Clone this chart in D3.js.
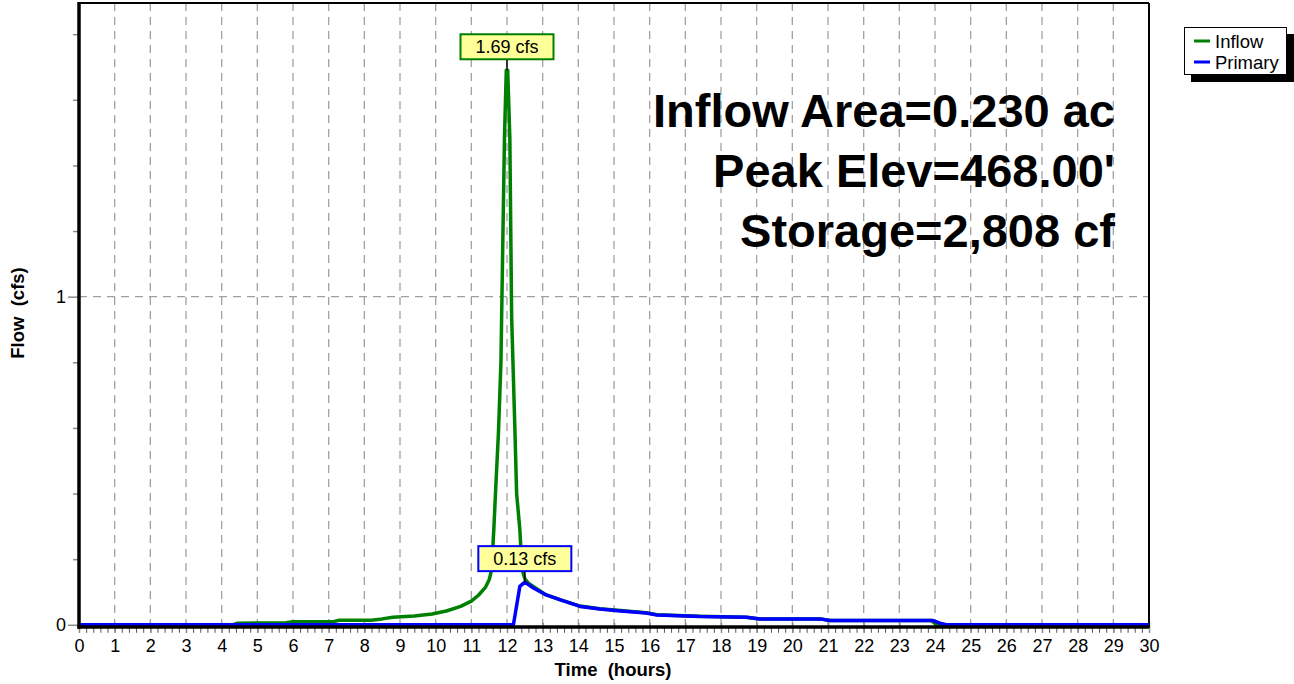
<!DOCTYPE html>
<html>
<head>
<meta charset="utf-8">
<script src="https://cdn.jsdelivr.net/npm/d3@7"></script>
<style>
  html, body { margin: 0; padding: 0; background: #fff; }
  svg { display: block; font-family: "Liberation Sans", Arial, sans-serif; }
  .title { white-space: pre; }
</style>
</head>
<body>
<svg id="chart" width="1294" height="684"></svg>
<script>
// Hydrograph: time in hours, flow in cfs
const inflowTime = [0, 4.3, 4.45, 5.8, 6.0, 7.1, 7.3, 8.2, 8.5, 8.8, 9.4, 9.9, 10.3, 10.7, 11.0, 11.2, 11.4, 11.5, 11.57, 11.63, 11.69, 11.76, 11.83, 11.87, 11.93, 11.98, 12.02, 12.08, 12.13, 12.22, 12.27, 12.36, 12.42, 12.5, 12.6, 12.8, 13.1, 13.5, 14.05, 14.6, 15.1, 15.9, 16.2, 17.4, 18.7, 19.1, 20.8, 21.05, 23.9, 24.05, 30];
const inflowFlow = [0, 0, 0.005, 0.006, 0.009, 0.009, 0.014, 0.014, 0.018, 0.023, 0.027, 0.033, 0.042, 0.056, 0.072, 0.09, 0.115, 0.137, 0.168, 0.29, 0.43, 0.585, 0.80, 1.08, 1.49, 1.69, 1.69, 1.48, 0.94, 0.60, 0.40, 0.29, 0.17, 0.14, 0.127, 0.112, 0.091, 0.076, 0.057, 0.049, 0.044, 0.037, 0.031, 0.026, 0.023, 0.018, 0.018, 0.013, 0.013, 0, 0];

const primaryTime = [0, 12.18, 12.36, 12.5, 12.74, 13.1, 13.5, 14.05, 14.6, 15.1, 15.9, 16.2, 17.4, 18.72, 19.09, 20.77, 21.05, 23.95, 24.14, 24.32, 30];
const primaryFlow = [0, 0, 0.117, 0.13, 0.112, 0.091, 0.076, 0.056, 0.048, 0.043, 0.036, 0.030, 0.025, 0.023, 0.018, 0.018, 0.013, 0.013, 0.005, 0, 0];

const xTicks = d3.range(0, 31, 1);
const yTicks = [0, 1];
const yMinorTicks = [0.2, 0.4, 0.6, 0.8, 1.2, 1.4, 1.6, 1.8];

const peakLabels = [
  { text: "1.69 cfs", time: 12.0, flow: 1.69, color: "#008000" },
  { text: "0.13 cfs", time: 12.5, flow: 0.13, color: "#0000ff" }
];
const infoLines = ["Inflow Area=0.230 ac", "Peak Elev=468.00'", "Storage=2,808 cf"];
const legendNames = ["Inflow", "Primary"];
const legendColors = ["#008000", "#0000ff"];

const svg = d3.select("#chart");
const plotL = 79, plotR = 1149, plotT = 3, plotB = 624.8;

const x = d3.scaleLinear().domain([0, 30]).range([plotL, plotR]);
const y = d3.scaleLinear().domain([0, 1.895]).range([plotB, plotT]);

// vertical dashed grid
svg.append("g").selectAll("line").data(xTicks.slice(1, -1)).join("line")
  .attr("x1", d => x(d)).attr("x2", d => x(d))
  .attr("y1", plotT).attr("y2", plotB)
  .attr("stroke", "#a0a0a0").attr("stroke-width", 1.3)
  .attr("stroke-dasharray", "8,6");
// horizontal dashed grid
svg.append("g").selectAll("line").data(yTicks.slice(1)).join("line")
  .attr("x1", plotL).attr("x2", plotR)
  .attr("y1", d => y(d)).attr("y2", d => y(d))
  .attr("stroke", "#a0a0a0").attr("stroke-width", 1.3)
  .attr("stroke-dasharray", "8,6");

// x axis: minor ticks every 0.2 h, major every hour
const xMinor = d3.axisBottom(x).tickValues(d3.range(0, 30.001, 0.2)).tickSize(6).tickFormat("");
svg.append("g").attr("transform", `translate(0,${plotB + 2})`).call(xMinor)
  .call(g => g.select(".domain").remove())
  .call(g => g.selectAll("line").attr("stroke", "#555").attr("stroke-width", 1));
const xAxis = d3.axisBottom(x).tickValues(xTicks).tickSize(10).tickPadding(6).tickFormat(d3.format("d"));
svg.append("g").attr("transform", `translate(0,${plotB - 2})`).call(xAxis)
  .call(g => g.select(".domain").remove())
  .call(g => g.selectAll("line").attr("stroke", "#8a8a8a").attr("stroke-width", 1.5))
  .call(g => g.selectAll("text").attr("font-size", 18).attr("fill", "#000")
    .attr("font-family", "Liberation Sans, Arial, sans-serif"));

// y axis
const yMinor = d3.axisLeft(y).tickValues(yMinorTicks).tickSize(6).tickFormat("");
svg.append("g").attr("transform", `translate(${plotL},0)`).call(yMinor)
  .call(g => g.select(".domain").remove())
  .call(g => g.selectAll("line").attr("stroke", "#8a8a8a").attr("stroke-width", 1.5));
const yAxis = d3.axisLeft(y).tickValues(yTicks).tickSize(11).tickPadding(2).tickFormat(d3.format("d"));
svg.append("g").attr("transform", `translate(${plotL},0)`).call(yAxis)
  .call(g => g.select(".domain").remove())
  .call(g => g.selectAll("line").attr("stroke", "#8a8a8a").attr("stroke-width", 1.5))
  .call(g => g.selectAll("text").attr("font-size", 18).attr("fill", "#000")
    .attr("font-family", "Liberation Sans, Arial, sans-serif"));

// frame
svg.append("line").attr("x1", plotL).attr("x2", plotR).attr("y1", plotT).attr("y2", plotT)
  .attr("stroke", "#000").attr("stroke-width", 2);
svg.append("line").attr("x1", plotR).attr("x2", plotR).attr("y1", plotT).attr("y2", plotB + 3)
  .attr("stroke", "#000").attr("stroke-width", 2);

// series
const line = d3.line().x(d => x(d[0])).y(d => y(d[1]));
const inflowData = d3.zip(inflowTime, inflowFlow);
const primaryData = d3.zip(primaryTime, primaryFlow);
svg.append("path").datum(inflowData).attr("d", line)
  .attr("fill", "none").attr("stroke", "#008000").attr("stroke-width", 3.5)
  .attr("stroke-linejoin", "round");
svg.append("path").datum(primaryData).attr("d", line)
  .attr("fill", "none").attr("stroke", "#0000ff").attr("stroke-width", 3.5)
  .attr("stroke-linejoin", "round");

// axis lines (thick)
svg.append("line").attr("x1", plotL - 1.5).attr("x2", plotR).attr("y1", plotB + 2.2).attr("y2", plotB + 2.2)
  .attr("stroke", "#000").attr("stroke-width", 3.6);
svg.append("line").attr("x1", plotL).attr("x2", plotL).attr("y1", plotT - 1).attr("y2", plotB + 4)
  .attr("stroke", "#000").attr("stroke-width", 3.5);

// peak labels
peakLabels.forEach(p => {
  const px = x(p.time), py = y(p.flow);
  const g = svg.append("g");
  const bw = 93, bh = 25, by = py - 36;
  g.append("line").attr("x1", px).attr("x2", px).attr("y1", by + bh).attr("y2", py)
    .attr("stroke", "#000").attr("stroke-width", 1.5);
  g.append("rect").attr("x", px - bw / 2).attr("y", by).attr("width", bw).attr("height", bh)
    .attr("fill", "#ffff99").attr("stroke", p.color).attr("stroke-width", 2);
  g.append("text").attr("x", px).attr("y", by + bh / 2 + 6.5).attr("text-anchor", "middle")
    .attr("font-size", 18).attr("fill", "#000").text(p.text);
});

// info text block
svg.append("g").selectAll("text").data(infoLines).join("text")
  .attr("x", 1115).attr("y", (d, i) => 126.5 + i * 60)
  .attr("text-anchor", "end").attr("font-size", 47).attr("font-weight", "bold")
  .attr("fill", "#000").text(d => d);

// axis titles
svg.append("text").attr("class", "title").attr("x", 613).attr("y", 676).attr("text-anchor", "middle")
  .attr("font-size", 18.5).attr("font-weight", "bold").text("Time  (hours)");
svg.append("text").attr("class", "title").attr("transform", "translate(24,313) rotate(-90)").attr("text-anchor", "middle")
  .attr("font-size", 18.5).attr("font-weight", "bold").text("Flow  (cfs)");

// legend
const lg = svg.append("g");
lg.append("rect").attr("x", 1191).attr("y", 34).attr("width", 103).attr("height", 48).attr("fill", "#000");
lg.append("rect").attr("x", 1184.5).attr("y", 27.5).attr("width", 102).attr("height", 47)
  .attr("fill", "#fff").attr("stroke", "#000").attr("stroke-width", 1);
legendNames.forEach((n, i) => {
  const ly = 41 + i * 21;
  lg.append("line").attr("x1", 1194).attr("x2", 1210).attr("y1", ly).attr("y2", ly)
    .attr("stroke", legendColors[i]).attr("stroke-width", 3);
  lg.append("text").attr("x", 1215).attr("y", ly + 6.5).attr("font-size", 18.5).attr("fill", "#000").text(n);
});
</script>
</body>
</html>
